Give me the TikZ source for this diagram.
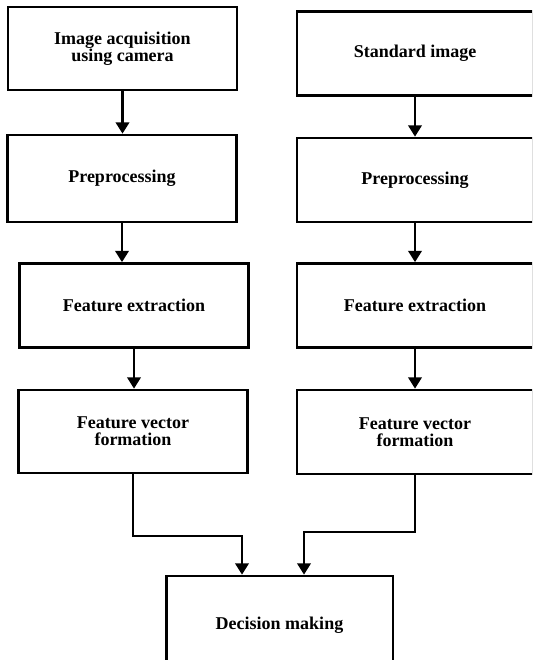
\documentclass[tikz,border=0pt]{standalone}
\usepackage{fontspec}
\setmainfont{Liberation Serif}
\usetikzlibrary{arrows.meta,positioning}

\begin{document}
\begin{tikzpicture}[
        x=0.75pt, y=-0.75pt,
        >={Triangle[width=10pt,length=8.5pt]},
        every node/.style={font=\bfseries\fontsize{13.5}{13}\selectfont, align=center},
        stage/.style={draw, line width=2pt, minimum height=63pt, minimum width=171.75pt, inner sep=3pt},
        rstage/.style={stage, minimum width=177pt},
        link/.style={->, line width=2pt}
    ]
        \useasboundingbox (0,0) rectangle (532,660);
        \fill[white] (0,0) rectangle (532,660);
        \clip (0,0) rectangle (532,660);

        \node[stage, minimum height=62.25pt] (a1) at (122.5,48.5) {Image acquisition\\using camera};
        \node[stage, minimum height=65.25pt] (a2) at (122,178.5) {Preprocessing};
        \node[stage] (a3) at (134,305.5) {Feature extraction};
        \node[stage, minimum height=62.25pt] (a4) at (133,431.5) {Feature vector\\formation};

        \node[rstage] (b1) at (415,53.5) {Standard image};
        \node[rstage] (b2) at (415,180) {Preprocessing};
        \node[rstage] (b3) at (415,305.5) {Feature extraction};
        \node[rstage] (b4) at (415,432) {Feature vector\\formation};

        \node[stage, minimum width=170pt, minimum height=73.5pt] (dm) at (279.5,625) {Decision making};

        \draw[link] (a1.south) -- (a1.south |- a2.north);
        \draw[link] (a2.south) -- (a2.south |- a3.north);
        \draw[link] (a3.south) -- (a3.south |- a4.north);

        \draw[link] (b1) -- (b2);
        \draw[link] (b2) -- (b3);
        \draw[link] (b3) -- (b4);

        \coordinate (jl) at (242,536);
        \coordinate (jr) at (304,532);
        \draw[link] (a4.south) |- (jl) -- (jl |- dm.north);
        \draw[link] (b4.south) |- (jr) -- (jr |- dm.north);
    \end{tikzpicture}
\end{document}
